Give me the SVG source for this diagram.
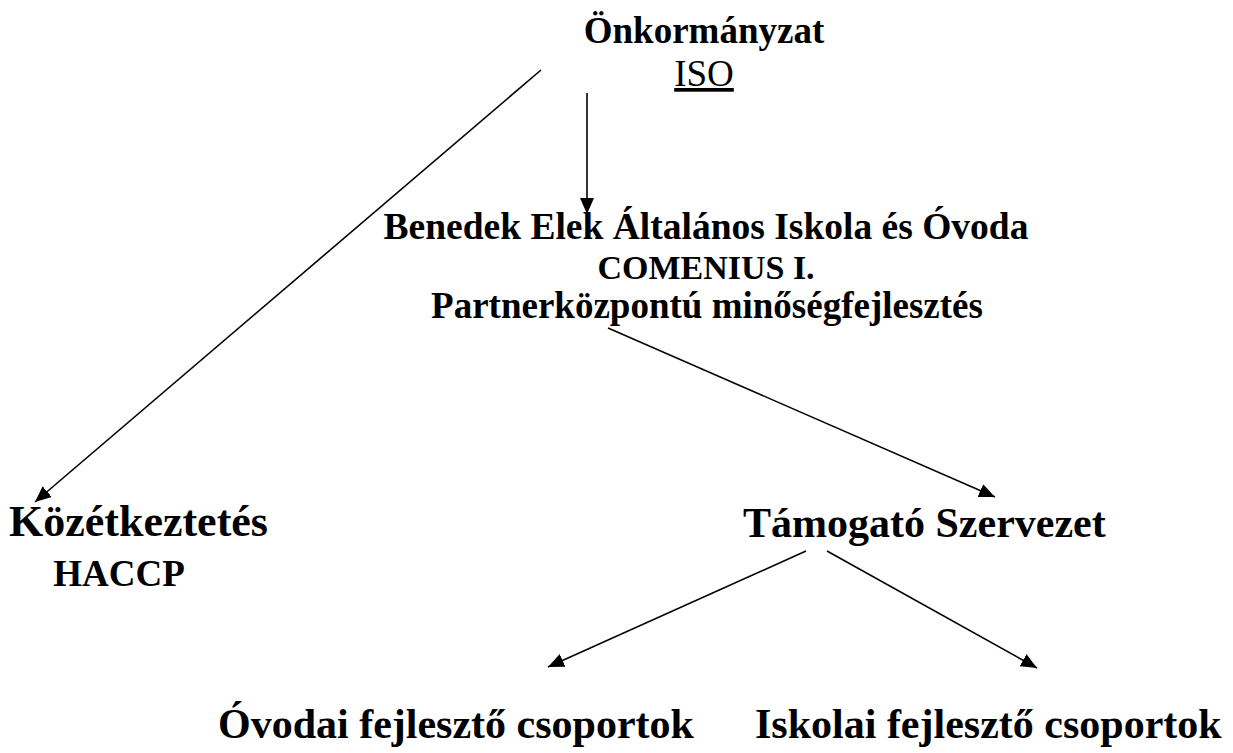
<svg xmlns="http://www.w3.org/2000/svg" width="1233" height="753" viewBox="0 0 1233 753">
<style>
text { font-family: "Liberation Serif", "Times New Roman", serif; fill: #000; }
.b { font-weight: bold; }
.c { text-anchor: middle; }
.s37 { font-size: 37px; }
.s42 { font-size: 42px; }
.edge { stroke: #000; stroke-width: 1.6; fill: none; marker-end: url(#ah); }
</style>
<defs>
<marker id="ah" viewBox="0 0 16 14" refX="16" refY="7" markerWidth="16" markerHeight="14" markerUnits="userSpaceOnUse" orient="auto">
<path d="M0,0 L16,7 L0,14 Z" fill="#000"/>
</marker>
</defs>
<rect width="1233" height="753" fill="#fff"/>
<g id="connectors">
<line class="edge" x1="541" y1="70" x2="35" y2="502"/>
<line class="edge" x1="587" y1="93" x2="587" y2="214"/>
<line class="edge" x1="608" y1="328" x2="995" y2="497"/>
<line class="edge" x1="806" y1="551" x2="548" y2="667"/>
<line class="edge" x1="827" y1="551" x2="1037" y2="668"/>
</g>
<g id="onkormanyzat">
<text class="b c s37" x="704" y="43">Önkormányzat</text>
<text class="c s37" x="704" y="86" text-decoration="underline">ISO</text>
</g>
<g id="iskola">
<text class="b c" x="706" y="239" font-size="37.5">Benedek Elek Általános Iskola és Óvoda</text>
<text class="b c" x="706" y="279" font-size="34">COMENIUS I.</text>
<text class="b c s37" x="707" y="318">Partnerközpontú minőségfejlesztés</text>
</g>
<g id="kozetkeztetes">
<text class="b" x="9" y="536" font-size="44">Közétkeztetés</text>
<text class="b c" x="119" y="586" font-size="37">HACCP</text>
</g>
<g id="tamogato">
<text class="b s42" x="743" y="537">Támogató Szervezet</text>
</g>
<g id="ovodai">
<text class="b s42" x="218" y="738">Óvodai fejlesztő csoportok</text>
</g>
<g id="iskolai">
<text class="b s42" x="755" y="738">Iskolai fejlesztő csoportok</text>
</g>
</svg>
